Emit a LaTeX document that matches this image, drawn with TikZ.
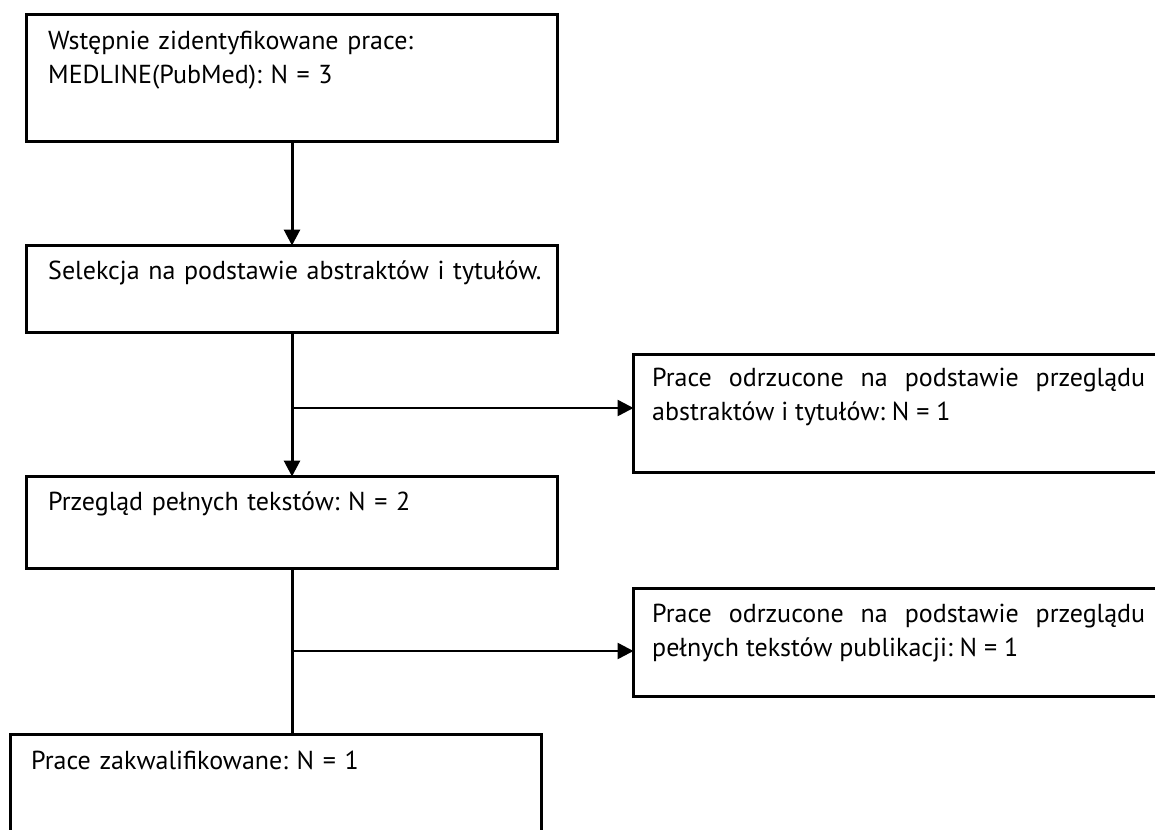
\documentclass[tikz,border=0pt]{standalone}
\usepackage{fontspec}
\setmainfont{PT Sans}
\usetikzlibrary{arrows.meta,positioning}
\frenchspacing

\begin{document}
\begin{tikzpicture}[x=1pt,y=-1pt,font=\fontsize{26}{34}\selectfont,
  box/.style={draw,line width=3pt,inner sep=0pt,outer sep=0pt,minimum width=531pt},
  sidebox/.style={box,minimum width=540pt,anchor=north west},
  txt/.style={inner sep=0pt,text width=505pt,align=left,anchor=north west},
  jtxt/.style={txt,text width=493pt,align=justify},
  arr/.style={line width=3pt,-{Triangle[length=16pt,width=16pt]}},
  harr/.style={arr,line width=2.5pt}, link/.style={line width=3pt}]
  \useasboundingbox[fill=white] (0,0) rectangle (1155,829);
  % main column
  \node[box,minimum height=127pt,anchor=north west] (b1) at (26.5,14.5) {};
  \node[box,minimum height=87pt,below=104pt of b1] (b2) {};
  \node[box,minimum height=92pt,below=144pt of b2] (b4) {};
  \node[box,minimum height=120pt,anchor=north west] (b6) at (10.5,734.5) {};
  % excluded records
  \node[sidebox,minimum height=118pt] (r1) at (633.5,354.5) {};
  \node[sidebox,minimum height=108pt] (r2) at (633.5,588.5) {};
  % texts
  \node[txt,below right=11pt and 21.5pt of b1.north west] (t1)
    {\strut Wstępnie zidentyfikowane prace:\\MEDLINE(PubMed): N = 3};
  \node[txt,below right=10pt and 21.5pt of b2.north west] (t2)
    {\strut Selekcja na podstawie abstraktów i tytułów.};
  \node[txt,below right=10pt and 21.5pt of b4.north west] (t4)
    {\strut Przegląd pełnych tekstów: N = 2};
  \node[txt,below right=11pt and 20.5pt of b6.north west] (t6)
    {\strut Prace zakwalifikowane: N = 1};
  \node[jtxt,below right=8pt and 18.5pt of r1.north west] (t3)
    {\strut Prace odrzucone na podstawie przeglądu\linebreak abstraktów i tytułów: N = 1};
  \node[jtxt,below right=10pt and 18.5pt of r2.north west] (t5)
    {\strut Prace odrzucone na podstawie przeglądu\linebreak pełnych tekstów publikacji: N = 1};
  % connectors
  \coordinate (j1) at (b2.south |- 0,408);
  \coordinate (j2) at (b4.south |- 0,651);
  \draw[arr] (b1) -- (b2);
  \draw[arr] (b2) -- (b4);
  \draw[harr] (j1) -- (j1 -| r1.west);
  \draw[link] (b4) -- (b4.south |- b6.north);
  \draw[harr] (j2) -- (j2 -| r2.west);
\end{tikzpicture}
\end{document}
